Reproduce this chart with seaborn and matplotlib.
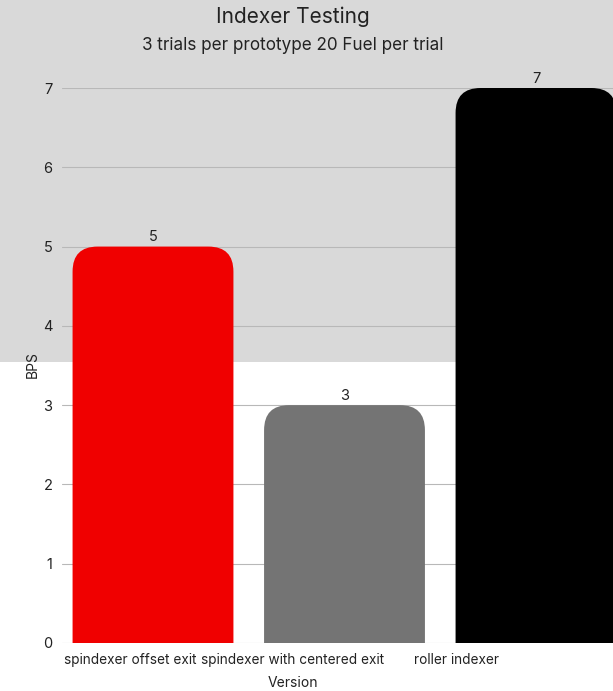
import matplotlib
matplotlib.use("Agg")
import matplotlib.pyplot as plt
import seaborn as sns
import pandas as pd
from matplotlib.patches import FancyBboxPatch, Rectangle

versions = ["spindexer offset exit", "spindexer with centered exit", "roller indexer"]
bps = [5, 3, 7]
colors = ["#f00000", "#747474", "#000000"]
yticks = [0, 1, 2, 3, 4, 5, 6, 7]

sns.set_theme(style="white")
plt.rcParams['font.family'] = ['Inter', 'DejaVu Sans']

W, H = 613, 691
fig = plt.figure(figsize=(W/100, H/100), dpi=100)
fig.patch.set_facecolor("white")
fig.patches.append(Rectangle((0, 1 - 362/H), 1, 362/H, transform=fig.transFigure,
                             facecolor="#d9d9d9", edgecolor="none", zorder=-10))

ax = fig.add_axes([62/W, (H-643)/H, (W-62)/W, (643-88)/H])
ax.patch.set_alpha(0)

df = pd.DataFrame({"Version": versions, "BPS": bps})
sns.barplot(data=df, x="Version", y="BPS", hue="Version", palette=colors,
            legend=False, ax=ax, width=0.84, saturation=1)

# replace bars with rounded-top bars
rx = 25/191.5
ry = 25/79.3
for p in list(ax.patches):
    x, w, h = p.get_x(), p.get_width(), p.get_height()
    fc = p.get_facecolor()
    p.remove()
    fb = FancyBboxPatch((x, -1), w, h + 1,
                        boxstyle=f"round,pad=0,rounding_size={rx}",
                        mutation_aspect=ry/rx, facecolor=fc, edgecolor="none", zorder=2)
    ax.add_patch(fb)

for i, v in enumerate(bps):
    ax.text(i, v + 0.03, f"{v}", ha="center", va="bottom", fontsize=10.5,
            color="#222222", clip_on=False)

px0 = 153
band = 191.5
ax.set_xlim((62 - px0)/band, (W - px0)/band)
# category labels sit on a narrower spacing than the bars in the original
ax.set_xticks([(i*163 - 23)/band for i in range(len(versions))])
ax.set_xticklabels(versions)
ax.set_ylim(0, 7)
ax.set_yticks(yticks)
ax.yaxis.grid(True, color="#b8b8b8", linewidth=0.8, zorder=0)
ax.set_axisbelow(True)
for s in ax.spines.values():
    s.set_visible(False)
ax.tick_params(axis="both", length=0, colors="#222222")
ax.tick_params(axis="y", pad=7, labelsize=10.5)
ax.tick_params(axis="x", pad=7, labelsize=9.8)
ax.set_ylabel("BPS", fontsize=10, color="#222222", va="center")
ax.yaxis.set_label_coords((33 - 62)/(W - 62), (643 - 365)/(643 - 88))
ax.set_xlabel("Version", fontsize=10, color="#222222")
ax.xaxis.set_label_coords((293 - 62)/(W - 62), -(683 - 643)/(643 - 88))
ax.xaxis.label.set_va("center")

fig.text(293/W, 1 - 17/H, "Indexer Testing", ha="center", va="center",
         fontsize=15, color="#222222")
fig.text(293/W, 1 - 46/H, "3 trials per prototype 20 Fuel per trial", ha="center",
         va="center", fontsize=12.3, color="#222222")

fig.savefig("out.png", dpi=100)
